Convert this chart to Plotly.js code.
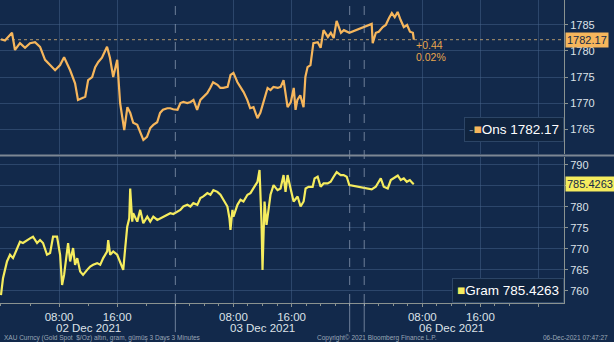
<!DOCTYPE html>
<html>
<head>
<meta charset="utf-8">
<script src="https://cdn.plot.ly/plotly-3.0.1.min.js"></script>
<style>
  html, body { margin: 0; padding: 0; background: #12294b; }
  #chart { width: 614px; height: 342px; }
</style>
</head>
<body>
<div id="chart"></div>
<script>
// ---- Data (hours since 2021-12-02 00:00) ----
const onsHours = [0.0,0.55,1.52,1.93,2.62,3.31,4.0,4.69,5.38,6.07,6.76,7.45,8.14,8.69,9.52,10.2,10.6,11.2,11.6,12.0,12.55,12.97,13.4,13.9,14.6,15.0,15.45,16.0,16.4,16.97,17.4,17.8,18.2,18.76,19.17,19.6,20.1,20.55,20.97,21.5,21.9,22.3,22.9,23.3,23.7,24.3,24.7,25.1,25.65,26.1,26.5,27.0,27.45,27.9,28.4,28.8,29.2,29.8,30.2,30.6,31.2,31.6,32.0,32.55,32.97,33.4,33.9,34.3,34.76,35.3,35.7,36.1,36.7,37.1,37.5,38.1,38.5,38.9,39.45,39.9,40.3,40.55,40.8,41.2,41.65,41.9,42.2,42.6,43.0,43.6,44.0,44.4,45.0,45.4,45.8,46.2,46.8,47.2,47.7,47.95,97.03,97.17,97.6,98.0,98.55,98.97,99.4,99.8,100.2,100.6,101.0,101.45,101.9,102.3,102.7,102.83];
const onsPrice = [1782.25,1782.0,1783.5,1780.2,1781.5,1780.6,1781.5,1781.7,1780.8,1778.3,1777.3,1776.3,1777.3,1778.8,1776.3,1773.8,1770.6,1771.0,1771.2,1774.4,1775.0,1776.9,1777.9,1778.7,1780.8,1778.7,1775.0,1778.3,1770.0,1764.8,1769.2,1768.1,1766.2,1765.8,1764.4,1762.9,1763.5,1765.2,1765.8,1766.3,1768.1,1768.7,1769.0,1769.0,1768.8,1768.7,1770.0,1770.2,1770.0,1770.2,1770.6,1768.7,1770.6,1771.2,1771.9,1772.9,1774.0,1773.5,1772.9,1772.9,1773.1,1775.4,1775.8,1774.0,1773.1,1772.1,1770.6,1769.0,1769.2,1767.1,1768.1,1770.2,1772.9,1772.5,1773.1,1772.9,1773.1,1774.4,1769.2,1770.2,1772.9,1768.7,1770.6,1771.5,1769.2,1775.0,1776.9,1777.3,1781.5,1781.7,1780.6,1784.0,1782.7,1783.5,1782.5,1785.8,1783.5,1784.0,1783.7,1783.5,1785.2,1781.5,1783.5,1783.7,1784.6,1785.0,1786.3,1787.3,1786.5,1787.5,1786.0,1784.6,1785.0,1783.7,1783.5,1782.17];

const gramHours = [0.0,0.28,0.83,1.24,1.66,2.21,2.62,3.03,3.59,4.0,4.41,4.97,5.38,5.79,6.34,6.76,7.17,7.72,8.14,8.41,8.69,9.1,9.24,9.52,9.93,10.2,10.5,10.9,11.3,11.86,12.28,12.69,13.24,13.66,14.07,14.62,14.76,15.03,15.45,16.0,16.41,16.83,17.1,17.38,17.66,17.79,18.07,18.2,18.76,19.17,19.59,20.14,20.55,20.97,21.52,21.93,22.34,22.9,23.31,23.72,24.28,24.69,25.1,25.66,26.07,26.48,27.03,27.45,27.86,28.41,28.83,29.24,29.79,30.21,30.62,31.17,31.45,31.59,31.86,32.0,32.55,32.97,33.38,33.93,34.34,34.76,35.31,35.59,35.86,36.0,36.28,36.55,36.83,37.1,37.52,38.07,38.48,38.9,39.17,39.45,39.86,40.28,40.83,41.24,41.66,41.93,42.34,42.9,43.17,43.59,44.0,44.41,44.97,45.38,45.79,46.21,46.76,47.17,47.59,47.95,97.03,97.59,98.0,98.28,98.69,99.24,99.66,100.07,100.62,101.03,101.45,101.86,102.28,102.69,102.83];
const gramPrice = [759.0,763.0,767.0,768.6,767.8,770.2,771.7,771.4,772.1,772.5,772.9,771.4,772.1,771.4,768.6,769.0,772.9,772.9,768.6,761.4,763.8,768.6,771.4,767.0,770.2,766.2,767.8,764.6,763.8,765.0,765.8,766.2,766.6,766.2,767.8,769.4,772.1,768.6,769.4,768.6,767.0,765.0,770.2,775.3,777.3,784.4,776.5,778.5,776.5,779.3,776.1,777.7,776.5,777.7,776.9,777.3,777.7,778.1,778.5,778.3,778.9,779.3,780.1,780.5,780.1,780.9,780.5,782.1,782.5,783.3,782.9,784.0,783.6,782.9,781.7,780.1,777.3,774.5,779.3,777.7,780.5,781.7,781.3,782.9,783.3,784.4,786.0,788.8,776.5,765.0,781.3,775.7,779.7,782.9,785.2,784.0,784.4,787.6,783.6,787.6,784.4,781.3,782.5,780.1,781.3,784.4,784.8,784.8,786.8,787.2,784.8,785.6,785.6,786.0,787.2,788.3,787.6,787.6,787.2,785.2,784.2,784.8,786.0,786.8,784.8,784.4,786.4,786.8,787.5,786.4,786.8,786.0,786.4,785.6,785.4263];

const onsTicks = [1765,1770,1775,1780,1785];
const onsTickText = ["1765","1770","1775","1780","1785"];
const gramTicks = [760,765,770,775,780,785,790];
const gramTickText = ["760","765","770","775","780","","790"];
const timeTickVals = ["2021-12-02 08:00","2021-12-02 16:00","2021-12-03 08:00","2021-12-03 16:00","2021-12-06 08:00","2021-12-06 16:00","2021-12-07 00:00"];
const timeTickText = ["08:00","16:00","08:00","16:00","08:00","16:00",""];
const dayMid = ["2021-12-02 12:00","2021-12-03 12:00","2021-12-06 12:00"];
const dayLabels = ["02 Dec 2021","03 Dec 2021","06 Dec 2021"];
const dayStarts = ["2021-12-03 00:00","2021-12-04 00:00","2021-12-06 00:00"];
const onsLast = 1782.17, onsChange = "+0.44", onsPct = "0.02%";
const gramLast = 785.4263;

// ---- helpers ----
function toDate(h) {
  const d = new Date(Date.UTC(2021, 11, 2) + h * 3600000);
  return d.toISOString().slice(0, 19).replace('T', ' ');
}

const BG = '#12294b';
const GRID = 'rgba(70,100,140,0.5)';
const AXIS = '#8a9290';
const TXT = '#dde2e8';
const ORANGE = '#f6b65c';
const YELLOW = '#f5ec5e';
const FONT = 'Liberation Sans, Arial, sans-serif';

const onsTrace = {
  x: onsHours.map(toDate), y: onsPrice, type: 'scatter', mode: 'lines',
  line: {color: ORANGE, width: 2.2}, xaxis: 'x2', yaxis: 'y', hoverinfo: 'skip'
};
const gramTrace = {
  x: gramHours.map(toDate), y: gramPrice, type: 'scatter', mode: 'lines',
  line: {color: YELLOW, width: 2.2}, xaxis: 'x', yaxis: 'y2', hoverinfo: 'skip'
};

const xRange = ["2021-12-01 23:52", "2021-12-07 03:30"];
const breaks = [{bounds: ["2021-12-04 00:00", "2021-12-05 22:00"]}];
const baseX = {
  type: 'date', range: xRange, rangebreaks: breaks,
  tickmode: 'array', tickvals: timeTickVals, ticktext: timeTickText,
  showgrid: true, gridcolor: GRID, gridwidth: 1, zeroline: false
};

const shapes = [];
dayStarts.forEach(d => {
  shapes.push({type: 'line', xref: 'x', yref: 'paper', x0: d, x1: d, y0: 0, y1: 1,
    line: {color: 'rgba(170,185,205,0.6)', width: 1, dash: 'dash'}});
  shapes.push({type: 'line', xref: 'x', yref: 'paper', x0: d, x1: d, y0: -0.096, y1: 0,
    line: {color: 'rgba(170,185,205,0.6)', width: 1}});
});
// panel separator
shapes.push({type: 'line', xref: 'paper', yref: 'paper', x0: 0, x1: 1.09, y0: 0.4868, y1: 0.4868,
  line: {color: '#7d8794', width: 2}});
// last price line (ons)
shapes.push({type: 'line', xref: 'paper', yref: 'y', x0: 0, x1: 1, y0: onsLast, y1: onsLast,
  line: {color: 'rgba(225,185,120,0.75)', width: 1, dash: 'dot'}});

const annotations = [];
dayMid.forEach((d, i) => annotations.push({
  x: d, xref: 'x', y: -0.081, yref: 'paper', text: dayLabels[i], showarrow: false,
  xanchor: 'center', yanchor: 'middle', font: {family: FONT, size: 11.5, color: TXT}
}));
annotations.push({x: 0.004, xref: 'paper', y: -0.115, yref: 'paper', xanchor: 'left', yanchor: 'middle',
  text: 'XAU Curncy (Gold Spot  $/Oz) altın, gram, gümüş 3 Days 3 Minutes', showarrow: false,
  font: {family: FONT, size: 6.5, color: '#9aa6b6'}});
annotations.push({x: 0.5585, xref: 'paper', y: -0.115, yref: 'paper', xanchor: 'left', yanchor: 'middle',
  text: 'Copyright© 2021 Bloomberg Finance L.P.', showarrow: false,
  font: {family: FONT, size: 6.5, color: '#9aa6b6'}});
annotations.push({x: 1.0816, xref: 'paper', y: -0.115, yref: 'paper', xanchor: 'right', yanchor: 'middle',
  text: '06-Dec-2021 07:47:27', showarrow: false,
  font: {family: FONT, size: 6.5, color: '#9aa6b6'}});
// price tags
annotations.push({x: 1.002, xref: 'paper', y: onsLast, yref: 'y', xanchor: 'left', yanchor: 'middle',
  text: onsLast.toFixed(2), showarrow: false, bgcolor: ORANGE, borderpad: 1,
  font: {family: FONT, size: 11, color: '#132a48'}});
annotations.push({x: 1.002, xref: 'paper', y: gramLast, yref: 'y2', xanchor: 'left', yanchor: 'middle',
  text: gramLast.toFixed(4), showarrow: false, bgcolor: YELLOW, borderpad: 1,
  font: {family: FONT, size: 11, color: '#132a48'}});
// change text
const lastT = toDate(onsHours[onsHours.length - 1]);
annotations.push({x: lastT, xref: 'x2', y: 0.851, yref: 'paper', xanchor: 'left', yanchor: 'middle',
  text: onsChange, showarrow: false, font: {family: FONT, size: 10.5, color: '#e7a64e'}});
annotations.push({x: lastT, xref: 'x2', y: 0.812, yref: 'paper', xanchor: 'left', yanchor: 'middle',
  text: onsPct, showarrow: false, font: {family: FONT, size: 10.5, color: '#e7a64e'}});
// legend boxes
annotations.push({x: 1.0, xref: 'paper', y: 0.571, yref: 'paper', xanchor: 'right', yanchor: 'middle',
  text: '<span style="color:#7d8a9a">-</span><span style="color:' + ORANGE + '">■</span>Ons ' + onsLast.toFixed(2),
  showarrow: false, bgcolor: '#10243f', bordercolor: '#2c4566', borderwidth: 1, borderpad: 4,
  font: {family: FONT, size: 13.5, color: '#ffffff'}});
annotations.push({x: 1.0, xref: 'paper', y: 0.0, yref: 'paper', xanchor: 'right', yanchor: 'bottom',
  text: '<span style="color:' + YELLOW + '">■</span>Gram ' + gramLast.toFixed(4),
  showarrow: false, bgcolor: '#10243f', bordercolor: '#2c4566', borderwidth: 1, borderpad: 4,
  font: {family: FONT, size: 13.5, color: '#ffffff'}});

const layout = {
  width: 614, height: 342,
  margin: {l: 0, r: 50, t: 0, b: 39, pad: 0},
  paper_bgcolor: BG, plot_bgcolor: BG,
  showlegend: false,
  font: {family: FONT, color: TXT},
  xaxis: Object.assign({}, baseX, {
    domain: [0, 1], anchor: 'y2',
    showticklabels: true, ticks: 'outside', ticklen: 3, tickcolor: AXIS,
    tickfont: {family: FONT, size: 11.5, color: TXT},
    showline: true, linecolor: AXIS, linewidth: 1,
    minor: {tickmode: 'linear', tick0: '2021-12-02 00:00', dtick: 14400000, ticks: 'outside', ticklen: 2, tickcolor: AXIS, showgrid: false}
  }),
  xaxis2: Object.assign({}, baseX, {
    domain: [0, 1], anchor: 'y', matches: 'x', showticklabels: false, ticks: ''
  }),
  yaxis: {
    domain: [0.4917, 1], anchor: 'x2', side: 'right',
    range: [1760.2, 1789.8], tickmode: 'array', tickvals: onsTicks, ticktext: onsTickText,
    showgrid: true, gridcolor: GRID, zeroline: false,
    ticks: 'outside', ticklen: 3, tickcolor: AXIS,
    showline: true, linecolor: AXIS, linewidth: 1,
    tickfont: {family: FONT, size: 11, color: TXT}
  },
  yaxis2: {
    domain: [0, 0.4818], anchor: 'x', side: 'right',
    range: [757.1, 791.9], tickmode: 'array', tickvals: gramTicks, ticktext: gramTickText,
    showgrid: true, gridcolor: GRID, zeroline: false,
    ticks: 'outside', ticklen: 3, tickcolor: AXIS,
    showline: true, linecolor: AXIS, linewidth: 1,
    tickfont: {family: FONT, size: 11, color: TXT}
  },
  shapes: shapes,
  annotations: annotations
};

Plotly.newPlot('chart', [onsTrace, gramTrace], layout, {staticPlot: true, displayModeBar: false});
</script>
</body>
</html>
